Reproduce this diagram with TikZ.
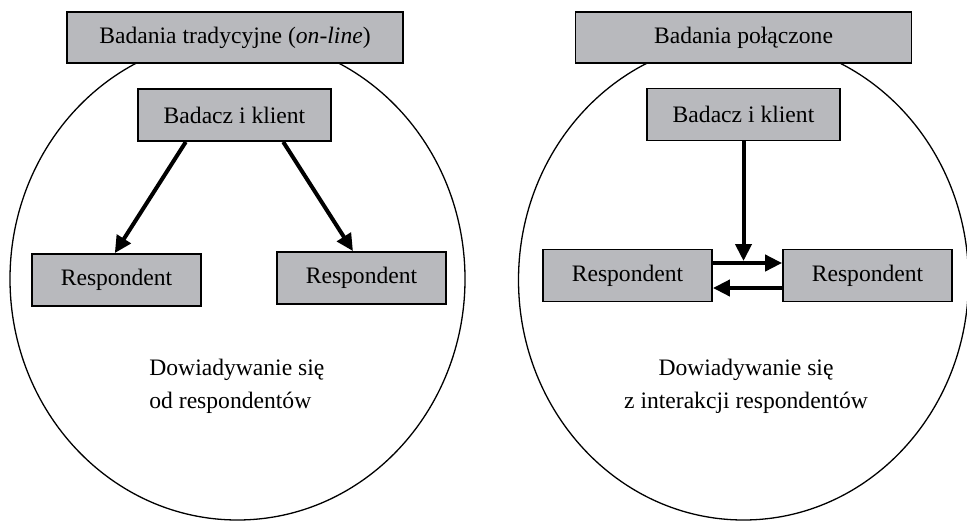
\documentclass[tikz,border=0pt]{standalone}
\usepackage{fontspec}
\setmainfont{Liberation Serif}
\usetikzlibrary{arrows.meta,calc}
\definecolor{boxgray}{RGB}{184,185,189}
\begin{document}
\begin{tikzpicture}[x=0.5pt,y=-0.5pt,
		font=\fontsize{11.8}{16.5}\selectfont,
		box/.style={draw,line width=0.9pt,fill=boxgray,inner sep=0pt,minimum height=26pt},
		titlebox/.style={box,minimum width=168pt,minimum height=25.5pt},
		actorbox/.style={box,minimum width=96.5pt},
		respbox/.style={box,minimum width=84.5pt},
		arr/.style={line width=2pt,-{Triangle[length=8.5pt,width=8pt]}}]
	\useasboundingbox (0,0) rectangle (967,520);
	% left
	\draw[line width=0.65pt] (237.5,279) ellipse [x radius=227.5, y radius=241];
	\node[titlebox] (titL) at (235,37.5) {Badania tradycyjne (\textit{on-line})};
	\node[actorbox] (badL) at (234.5,115) {Badacz i klient};
	\node[respbox] (resL1) at (116.5,280) {Respondent};
	\node[respbox] (resL2) at (361.5,278) {Respondent};
	\node[anchor=west,align=left,inner sep=0pt] (txtL) at (149,386) {Dowiadywanie się\\od respondentów};
	\draw[arr] ($(badL.south west)!0.25!(badL.south east)$) -- ($(resL1.north west)!0.49!(resL1.north east)$);
	\draw[arr] ($(badL.south west)!0.75!(badL.south east)$) -- ($(resL2.north west)!0.45!(resL2.north east)$);
	% right
	\draw[line width=0.65pt] (743.5,280) ellipse [x radius=225, y radius=240];
	\node[titlebox] (titR) at (743.5,37.5) {Badania połączone};
	\node[actorbox] (badR) at (743.5,114.5) {Badacz i klient};
	\node[respbox] (resR1) at (627.5,275.5) {Respondent};
	\node[respbox] (resR2) at (867.5,275.5) {Respondent};
	\node[align=center,inner sep=0pt] (txtR) at (746,386) {Dowiadywanie się\\z interakcji respondentów};
	\draw[arr] ([yshift=6.25pt]resR1.east) coordinate (upL) -- ([yshift=6.25pt]resR2.west);
	\draw[arr] ([yshift=-6.25pt]resR2.west) -- ([yshift=-6.25pt]resR1.east);
	\draw[arr,shorten >=1pt] (badR.south) -- (badR.south |- upL);
\end{tikzpicture}
\end{document}
